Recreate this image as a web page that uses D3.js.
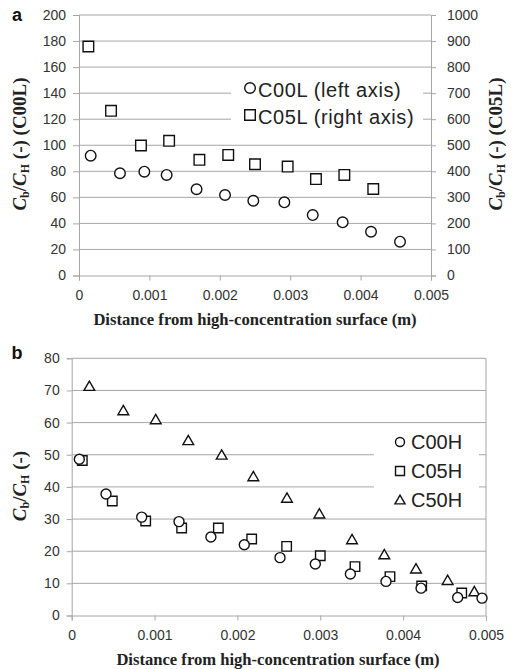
<!DOCTYPE html>
<html><head><meta charset="utf-8">
<script src="https://cdn.jsdelivr.net/npm/d3@7"></script>
<style>body{margin:0;background:#fff}</style>
</head><body>
<svg id="c" width="512" height="669"></svg>
<script>
// ---- Panel a data ----
const a_C00L_x = [0.000166,0.000582,0.000928,0.001245,0.00167,0.002074,0.002476,0.002917,0.00332,0.003745,0.004148,0.00456];
const a_C00L_y = [92.0,78.5,79.7,77.2,66.2,61.8,57.4,56.2,46.4,40.8,33.6,26.0];
const a_C05L_x = [0.000133,0.000455,0.00088,0.00128,0.00171,0.00212,0.0025,0.002964,0.003366,0.003769,0.00418];
const a_C05L_y = [879,632,499,517,444,463,427,418,370,386,332];
// ---- Panel b data ----
const b_C00H_x = [0.000092,0.000414,0.000845,0.001295,0.00168,0.002083,0.002514,0.00294,0.003363,0.003793,0.004216,0.004658,0.004952];
const b_C00H_y = [48.6,37.8,30.6,29.2,24.4,22.0,18.0,16.0,12.9,10.6,8.5,5.6,5.4];
const b_C05H_x = [0.000128,0.00049,0.000893,0.001327,0.00177,0.002172,0.002594,0.003,0.003419,0.003841,0.004224,0.004707];
const b_C05H_y = [48.2,35.6,29.4,27.2,27.2,23.8,21.5,18.6,15.2,12.1,9.2,7.0];
const b_C50H_x = [0.000213,0.000623,0.001014,0.001407,0.00181,0.002192,0.002598,0.002989,0.003383,0.003773,0.004155,0.004537,0.004859];
const b_C50H_y = [71.0,63.4,60.6,54.1,49.6,42.9,36.2,31.3,23.3,18.6,14.2,10.6,7.1];
// ---- ticks / labels ----
const xTicks = [0,0.001,0.002,0.003,0.004,0.005];
const xTickLabels = ["0","0.001","0.002","0.003","0.004","0.005"];
const aLeftTicks = [0,20,40,60,80,100,120,140,160,180,200];
const aRightTicks = [0,100,200,300,400,500,600,700,800,900,1000];
const bTicks = [0,10,20,30,40,50,60,70,80];
const xTitle = "Distance from high-concentration surface (m)";
const legendA = ["C00L (left axis)","C05L (right axis)"];
const legendB = ["C00H","C05H","C50H"];

const svg = d3.select("#c");
const GRID = "#a6a6a6";
const tickFont = "'Liberation Sans', Arial, sans-serif";
const serif = "'Liberation Serif', 'Times New Roman', serif";

function yTitle(g, x, y, rot, tail){
  const t = g.append("text").attr("transform",`translate(${x},${y}) rotate(${rot})`)
    .attr("text-anchor","middle").attr("font-family",serif).attr("font-weight","bold")
    .attr("font-size",19).attr("fill","#222");
  t.append("tspan").attr("font-style","italic").text("C");
  t.append("tspan").attr("font-size",12).attr("dy",3).text("b");
  t.append("tspan").attr("dy",-3).text("/");
  t.append("tspan").attr("font-style","italic").text("C");
  t.append("tspan").attr("font-size",12).attr("dy",3).text("H");
  t.append("tspan").attr("dy",-3).text(tail);
}

function circles(g, xs, ys, X, Y, r){
  g.selectAll(null).data(xs).enter().append("circle")
    .attr("cx",(d)=>X(d)).attr("cy",(d,i)=>Y(ys[i])).attr("r",r)
    .attr("fill","#fff").attr("stroke","#111").attr("stroke-width",1.4);
}
function symbols(g, xs, ys, X, Y, type, size){
  g.selectAll(null).data(xs).enter().append("path")
    .attr("d",d3.symbol().type(type).size(size))
    .attr("transform",(d,i)=>`translate(${X(d)},${Y(ys[i])})`)
    .attr("fill","#fff").attr("stroke","#111").attr("stroke-width",1.4);
}

// ================= Panel a =================
{
  const x = d3.scaleLinear().domain([0,0.005]).range([79,431]);
  const yl = d3.scaleLinear().domain([0,200]).range([275.5,15]);
  const yr = d3.scaleLinear().domain([0,1000]).range([275.5,15]);
  const g = svg.append("g");
  g.selectAll(null).data(aLeftTicks.filter(d=>d>0)).enter().append("line")
    .attr("x1",79).attr("x2",431).attr("y1",d=>yl(d)).attr("y2",d=>yl(d))
    .attr("stroke",GRID).attr("stroke-width",1);
  const la = g.append("g").attr("transform","translate(79,0)")
    .call(d3.axisLeft(yl).tickValues(aLeftTicks).tickFormat(d3.format("d")).tickSize(6).tickPadding(7));
  const ra = g.append("g").attr("transform","translate(431,0)")
    .call(d3.axisRight(yr).tickValues(aRightTicks).tickFormat(d3.format("d")).tickSize(5).tickPadding(11));
  const ba = g.append("g").attr("transform","translate(0,275.5)")
    .call(d3.axisBottom(x).tickValues(xTicks).tickFormat((d,i)=>xTickLabels[i]).tickSize(5).tickPadding(10));
  [la,ra,ba].forEach(a=>{
    a.selectAll("path,line").attr("stroke",GRID);
    a.selectAll("text").attr("font-family",tickFont).attr("font-size",14).attr("fill","#333");
  });
  g.append("rect").attr("x",231).attr("y",72).attr("width",192).attr("height",62).attr("fill","#fff");
  symbols(g, a_C05L_x, a_C05L_y, x, yr, d3.symbolSquare, 112);
  circles(g, a_C00L_x, a_C00L_y, x, yl, 5.3);
  g.append("circle").attr("cx",250).attr("cy",88).attr("r",5.3).attr("fill","#fff").attr("stroke","#111").attr("stroke-width",1.4);
  g.append("path").attr("d",d3.symbol().type(d3.symbolSquare).size(112)).attr("transform","translate(250,115)")
    .attr("fill","#fff").attr("stroke","#111").attr("stroke-width",1.4);
  g.selectAll(null).data(legendA).enter().append("text")
    .attr("x",258).attr("y",(d,i)=>90+i*27).attr("dy","0.35em")
    .attr("font-family",tickFont).attr("font-size",20).attr("letter-spacing",0.6).attr("fill","#222").text(d=>d);
  g.append("text").attr("x",255).attr("y",319).attr("dy","0.35em").attr("text-anchor","middle")
    .attr("font-family",serif).attr("font-weight","bold").attr("font-size",16.6).attr("fill","#222").text(xTitle);
  yTitle(g, 26, 144, -90, " (-) (C00L)");
  yTitle(g, 502, 144, -90, " (-) (C05L)");
  g.append("text").attr("x",17).attr("y",15).attr("dy","0.35em").attr("text-anchor","middle")
    .attr("font-family",tickFont).attr("font-weight","bold").attr("font-size",18).attr("fill","#111").text("a");
}

// ================= Panel b =================
{
  const x = d3.scaleLinear().domain([0,0.005]).range([71.7,486]);
  const y = d3.scaleLinear().domain([0,80]).range([615.5,358.3]);
  const g = svg.append("g");
  g.selectAll(null).data(bTicks.filter(d=>d>0)).enter().append("line")
    .attr("x1",71.7).attr("x2",486).attr("y1",d=>y(d)).attr("y2",d=>y(d))
    .attr("stroke",GRID).attr("stroke-width",1);
  g.append("line").attr("x1",486).attr("x2",486).attr("y1",358.3).attr("y2",615.5).attr("stroke",GRID);
  const la = g.append("g").attr("transform","translate(71.7,0)")
    .call(d3.axisLeft(y).tickValues(bTicks).tickSize(5).tickPadding(7));
  const ba = g.append("g").attr("transform","translate(0,615.5)")
    .call(d3.axisBottom(x).tickValues(xTicks).tickFormat((d,i)=>xTickLabels[i]).tickSize(5).tickPadding(10));
  [la,ba].forEach(a=>{
    a.selectAll("path,line").attr("stroke",GRID);
    a.selectAll("text").attr("font-family",tickFont).attr("font-size",14).attr("fill","#333");
  });
  g.append("rect").attr("x",374).attr("y",428).attr("width",105).attr("height",86).attr("fill","#fff");
  symbols(g, b_C50H_x, b_C50H_y, x, y, d3.symbolTriangle, 50);
  symbols(g, b_C05H_x, b_C05H_y, x, y, d3.symbolSquare, 90);
  circles(g, b_C00H_x, b_C00H_y, x, y, 5);
  g.append("circle").attr("cx",400).attr("cy",442).attr("r",4.5).attr("fill","#fff").attr("stroke","#111").attr("stroke-width",1.4);
  g.append("path").attr("d",d3.symbol().type(d3.symbolSquare).size(80)).attr("transform","translate(400,471)")
    .attr("fill","#fff").attr("stroke","#111").attr("stroke-width",1.4);
  g.append("path").attr("d",d3.symbol().type(d3.symbolTriangle).size(44)).attr("transform","translate(400,501)")
    .attr("fill","#fff").attr("stroke","#111").attr("stroke-width",1.4);
  g.selectAll(null).data(legendB).enter().append("text")
    .attr("x",411).attr("y",(d,i)=>442+i*29.2).attr("dy","0.35em")
    .attr("font-family",tickFont).attr("font-size",20).attr("fill","#222").text(d=>d);
  g.append("text").attr("x",278).attr("y",659).attr("dy","0.35em").attr("text-anchor","middle")
    .attr("font-family",serif).attr("font-weight","bold").attr("font-size",16.6).attr("fill","#222").text(xTitle);
  yTitle(g, 26, 486, -90, " (-)");
  g.append("text").attr("x",17).attr("y",353).attr("dy","0.35em").attr("text-anchor","middle")
    .attr("font-family",tickFont).attr("font-weight","bold").attr("font-size",18).attr("fill","#111").text("b");
}
</script>
</body></html>
